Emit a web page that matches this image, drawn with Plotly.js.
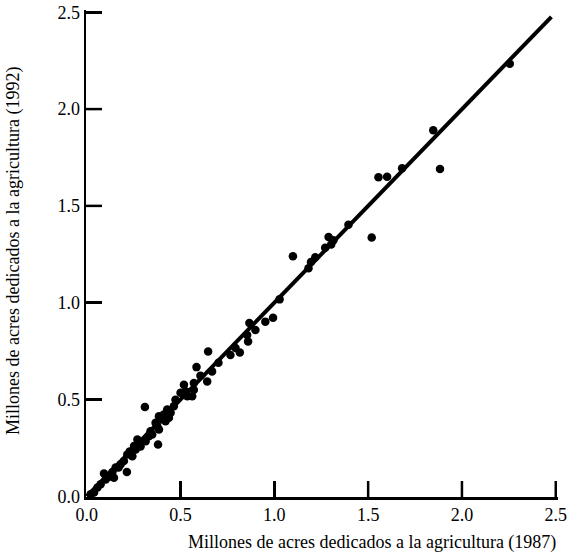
<!DOCTYPE html>
<html>
<head>
<meta charset="utf-8">
<script src="https://cdn.plot.ly/plotly-3.0.1.min.js"></script>
<style>
  html, body { margin: 0; padding: 0; background: #fff; }
  #chart { width: 570px; height: 555px; }
  #note { position: absolute; left: 300px; top: 30px; font: 11px monospace; color: #c00; }
</style>
</head>
<body>
<div id="chart"></div>
<div id="note"></div>
<script>
// Farmland per county, millions of acres: 1987 census vs 1992 census
const acres1987 = [
  2.255, 1.847, 1.883, 1.681, 1.555, 1.601, 1.395, 1.519, 1.289, 1.315,
  1.303, 1.271, 1.099, 1.218, 1.195, 1.182, 1.028, 0.993, 0.952, 0.867,
  0.855, 0.860, 0.816, 0.766, 0.647, 0.585, 0.668, 0.642, 0.571, 0.518,
  0.527, 0.536, 0.562, 0.473, 0.464, 0.429, 0.447, 0.411, 0.438, 0.385,
  0.420, 0.367, 0.310, 0.380, 0.214, 0.385, 0.340, 0.331, 0.314, 0.278,
  0.261, 0.243, 0.216, 0.198, 0.181, 0.154, 0.137, 0.119, 0.092, 0.101,
  0.074, 0.057, 0.039, 0.145, 0.349, 0.270, 0.252, 0.229, 0.394, 0.376,
  0.571, 0.287, 0.170, 0.021, 0.500, 0.606, 0.702, 0.793, 0.899
];
const acres1992 = [
  2.234, 1.891, 1.691, 1.694, 1.648, 1.651, 1.402, 1.337, 1.339, 1.322,
  1.301, 1.284, 1.240, 1.235, 1.210, 1.178, 1.017, 0.922, 0.902, 0.895,
  0.833, 0.799, 0.742, 0.730, 0.748, 0.667, 0.645, 0.593, 0.585, 0.576,
  0.542, 0.516, 0.516, 0.499, 0.465, 0.448, 0.431, 0.422, 0.405, 0.413,
  0.387, 0.379, 0.461, 0.267, 0.125, 0.345, 0.336, 0.310, 0.284, 0.276,
  0.242, 0.207, 0.216, 0.182, 0.165, 0.148, 0.125, 0.101, 0.118, 0.087,
  0.062, 0.045, 0.019, 0.096, 0.319, 0.293, 0.259, 0.231, 0.396, 0.362,
  0.550, 0.257, 0.149, 0.010, 0.535, 0.622, 0.689, 0.766, 0.859
];

// Reference line y = x
const fitX = [0, 2.477];
const fitY = [0, 2.477];

const tickValues = [0, 0.5, 1.0, 1.5, 2.0, 2.5];
const tickLabels = ['0.0', '0.5', '1.0', '1.5', '2.0', '2.5'];

const titleY = 'Millones de acres dedicados a la agricultura (1992)';
const titleX = 'Millones de acres dedicados a la agricultura (1987)';

const serif = 'Liberation Serif, Times New Roman, serif';

const W = 570, H = 555;
const M = { l: 86, r: 12, t: 10, b: 58 };
const TICK_LEN = 16;

const traces = [
  {
    x: fitX, y: fitY, type: 'scatter', mode: 'lines',
    line: { color: '#000', width: 4 },
    hoverinfo: 'skip'
  },
  {
    x: acres1987, y: acres1992, type: 'scatter', mode: 'markers',
    marker: { color: '#000', size: 8.5 }
  }
];

// Axes: bold lines; range reaches a hair past 2.5 so the end tick sits inside
const axisCommon = {
  showgrid: false, zeroline: false,
  showline: true, linecolor: '#000', linewidth: 2.5,
  ticks: 'inside', ticklen: TICK_LEN, tickwidth: 2.5, tickcolor: '#000',
  tickmode: 'array', tickvals: tickValues, ticktext: tickLabels,
  tickfont: { family: serif, size: 18, color: '#000' },
  range: [-0.004, 2.512],
  fixedrange: true
};

// Long inward tick marks, placed on the axes' own data scale
const plotW = W - M.l - M.r, plotH = H - M.t - M.b;
const tickShapes = [];
tickValues.filter(v => v > 0).forEach(v => {
  tickShapes.push({
    type: 'line', layer: 'above', xref: 'x', yref: 'paper',
    x0: v, x1: v, y0: 0, y1: TICK_LEN / plotH,
    line: { color: '#000', width: 2.5 }
  });
  tickShapes.push({
    type: 'line', layer: 'above', xref: 'paper', yref: 'y',
    x0: 0, x1: TICK_LEN / plotW, y0: v, y1: v,
    line: { color: '#000', width: 2.5 }
  });
});

const layout = {
  width: W, height: H,
  margin: M,
  showlegend: false,
  xaxis: Object.assign({}, axisCommon),
  // trailing em + en space keeps the y labels clear of the inward ticks
  yaxis: Object.assign({}, axisCommon, { ticksuffix: '\u2003\u2002' }),
  shapes: tickShapes,
  annotations: [
    {
      text: titleX, xref: 'paper', yref: 'paper',
      x: 0.605, y: -0.068, xanchor: 'center', yanchor: 'top',
      showarrow: false,
      font: { family: serif, size: 18, color: '#000' }
    },
    {
      text: titleY, xref: 'paper', yref: 'paper',
      x: -0.155, y: 0.505, xanchor: 'center', yanchor: 'middle',
      textangle: -90, showarrow: false,
      font: { family: serif, size: 18, color: '#000' }
    }
  ]
};

// Report a render failure on the page instead of failing silently
Plotly.newPlot('chart', traces, layout, { displayModeBar: false, staticPlot: true })
  .then(function (gd) {
    const n = gd.querySelectorAll('path.xtick.ticks, path.ytick.ticks').length;
    const s = gd.querySelectorAll('.shapelayer path').length;
    if (n === 0 || s === 0) {
      document.getElementById('note').textContent = 'ticks ' + n + ' shapes ' + s;
    }
  })
  .catch(function (e) {
    document.getElementById('note').textContent = 'error: ' + (e && e.message);
  });
</script>
</body>
</html>
